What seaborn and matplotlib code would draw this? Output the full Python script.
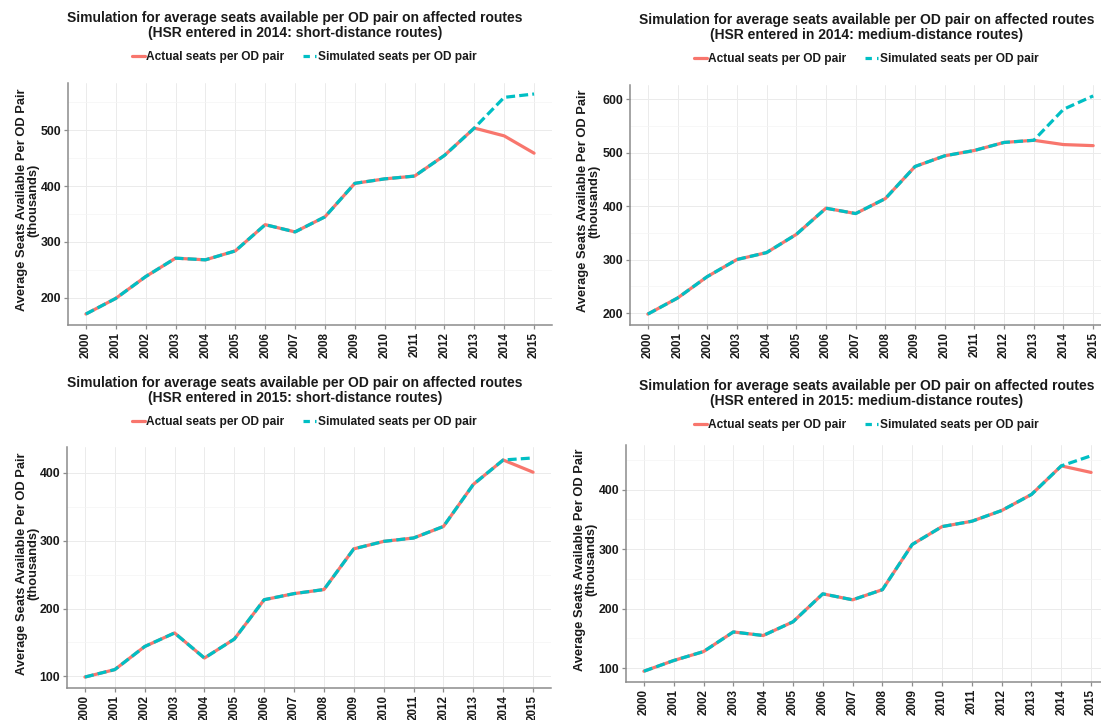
import matplotlib
matplotlib.use("Agg")
import matplotlib.pyplot as plt
from matplotlib.ticker import MultipleLocator
from matplotlib.lines import Line2D
import numpy as np
import pandas as pd
import seaborn as sns

sns.set_theme(style="white")
plt.rcParams["font.family"] = ["Liberation Sans", "DejaVu Sans"]
plt.rcParams["font.weight"] = "bold"

# ---- data (seats per OD pair, thousands) ----
years = list(range(2000, 2016))

actual_2014_short = [171, 199, 238, 271, 268, 284, 331, 318, 345, 405, 413, 418, 455, 504, 490, 459]
simulated_2014_short = [171, 199, 238, 271, 268, 284, 331, 318, 345, 405, 413, 418, 455, 504, 559, 565]

actual_2014_medium = [198, 228, 268, 300, 313, 347, 396, 386, 414, 474, 494, 504, 519, 523, 515, 513]
simulated_2014_medium = [198, 228, 268, 300, 313, 347, 396, 386, 414, 474, 494, 504, 519, 523, 581, 606]

actual_2015_short = [99, 110, 144, 164, 127, 155, 213, 222, 228, 288, 299, 304, 321, 383, 419, 401]
simulated_2015_short = [99, 110, 144, 164, 127, 155, 213, 222, 228, 288, 299, 304, 321, 383, 419, 422]

actual_2015_medium = [95, 113, 128, 161, 155, 178, 225, 215, 232, 308, 338, 347, 365, 392, 440, 429]
simulated_2015_medium = [95, 113, 128, 161, 155, 178, 225, 215, 232, 308, 338, 347, 365, 392, 440, 457]

series_names = ["Actual seats per OD pair", "Simulated seats per OD pair"]
palette = {series_names[0]: "#F8766D", series_names[1]: "#00BFC4"}

title_line = "Simulation for average seats available per OD pair on affected routes"
subtitles = [
    "(HSR entered in 2014: short-distance routes)",
    "(HSR entered in 2014: medium-distance routes)",
    "(HSR entered in 2015: short-distance routes)",
    "(HSR entered in 2015: medium-distance routes)",
]
ylabel = "Average Seats Available Per OD Pair\n(thousands)"

panels = [
    (actual_2014_short, simulated_2014_short),
    (actual_2014_medium, simulated_2014_medium),
    (actual_2015_short, simulated_2015_short),
    (actual_2015_medium, simulated_2015_medium),
]

# ---- layout (pixel boxes: left, top, right, bottom) ----
W, H = 1101, 720
fig = plt.figure(figsize=(W / 100, H / 100), dpi=100, facecolor="white")

boxes = [
    (68, 83, 552, 325),
    (630, 85, 1111, 325),
    (67, 447, 551, 688),
    (626, 445, 1109, 682),
]
title_y = [(18, 33), (20, 35), (383, 398), (386, 401)]
title_x = [295, 867, 295, 867]
legend_pos = [(304, 57), (866, 59), (304, 422), (866, 425)]
ylabel_x = [28, 589, 28, 586]

def fx(px):
    return px / W

def fy(py):
    return 1 - py / H

grid_col = "#EBEBEB"
axis_col = "#8C8C8C"
text_col = "#1A1A1A"

for i, (act, sim) in enumerate(panels):
    l, t, r, b = boxes[i]
    ax = fig.add_axes([fx(l), fy(b), fx(r) - fx(l), fy(t) - fy(b)])

    df = pd.DataFrame({
        "year": years * 2,
        "seats": act + sim,
        "series": [series_names[0]] * len(years) + [series_names[1]] * len(years),
    })
    sns.lineplot(
        data=df, x="year", y="seats", hue="series", style="series",
        hue_order=series_names, style_order=series_names, palette=palette,
        dashes={series_names[0]: "", series_names[1]: (2.8, 1.3)},
        linewidth=2.3, ax=ax, legend=False,
    )

    vals = np.array(act + sim, dtype=float)
    lo, hi = vals.min(), vals.max()
    pad = 0.05 * (hi - lo)
    ax.set_ylim(lo - pad, hi + pad)
    ax.set_xlim(years[0] - 0.6, years[-1] + 0.6)

    ax.set_xticks(years)
    ax.set_xticklabels([str(y) for y in years], rotation=90, fontsize=8.4,
                       fontweight="bold", color=text_col)
    ax.yaxis.set_major_locator(MultipleLocator(100))
    ax.yaxis.set_minor_locator(MultipleLocator(50))
    for lab in ax.get_yticklabels():
        lab.set_fontsize(8.8)
        lab.set_fontweight("bold")
        lab.set_color(text_col)

    ax.grid(True, which="major", color=grid_col, linewidth=0.7)
    ax.grid(True, which="minor", axis="y", color="#F4F4F4", linewidth=0.5)
    ax.set_axisbelow(True)
    for side in ["top", "right"]:
        ax.spines[side].set_visible(False)
    for side in ["left", "bottom"]:
        ax.spines[side].set_color(axis_col)
        ax.spines[side].set_linewidth(1.1)
    ax.tick_params(axis="both", which="major", length=3, width=0.9, color=axis_col,
                   pad=2, bottom=True, left=True)
    ax.tick_params(axis="y", which="minor", length=0)
    ax.set_xlabel("")
    ax.set_ylabel("")

    # y label, two centered lines
    fig.text(fx(ylabel_x[i]), fy((t + b) / 2 - 4), ylabel, rotation=90, ha="center",
             va="center", fontsize=9.3, fontweight="bold", color=text_col,
             multialignment="center", linespacing=0.9)

    # title
    fig.text(fx(title_x[i]), fy(title_y[i][0]), title_line, ha="center", va="center",
             fontsize=10.0, fontweight="bold", color=text_col)
    fig.text(fx(title_x[i]), fy(title_y[i][1]), subtitles[i], ha="center", va="center",
             fontsize=10.0, fontweight="bold", color=text_col)

    # legend above the panel
    handles = [
        Line2D([], [], color=palette[series_names[0]], linewidth=2.3),
        Line2D([], [], color=palette[series_names[1]], linewidth=2.3, dashes=(2.0, 1.6)),
    ]
    lx, ly = legend_pos[i]
    fig.legend(handles, series_names, loc="center", bbox_to_anchor=(fx(lx), fy(ly)),
               ncol=2, frameon=False, handlelength=1.1, handletextpad=0.1,
               columnspacing=1.6, prop={"size": 8.6, "weight": "bold"},
               labelcolor=text_col, borderaxespad=0, borderpad=0)

fig.savefig("out.png", dpi=100, facecolor="white")
